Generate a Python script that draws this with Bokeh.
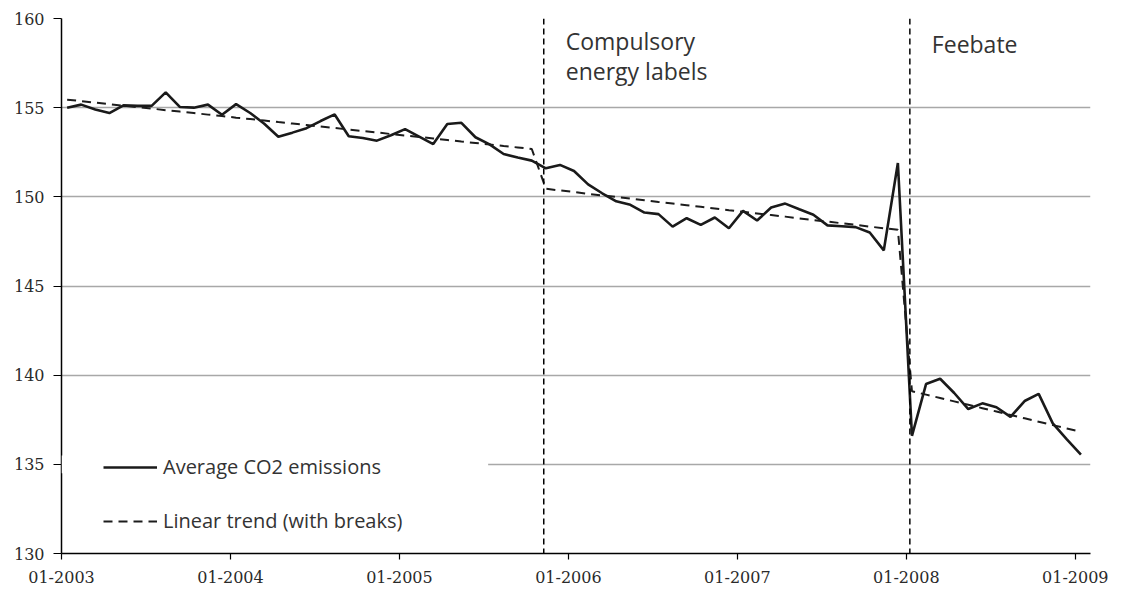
import pandas as pd
from bokeh.plotting import figure
from bokeh.models import (Span, Label, Legend, LegendItem, FixedTicker,
                          BoxAnnotation, Range1d, ColumnDataSource)
from bokeh.embed import file_html
from bokeh.resources import INLINE

# ---------------- data ----------------
months = [str(m) for m in pd.period_range("2003-01", "2009-01", freq="M")]  # 73 monthly observations

co2 = [155.0, 155.17, 154.9, 154.7, 155.13, 155.1, 155.1, 155.86, 155.04, 155.0,
       155.17, 154.6, 155.2, 154.7, 154.1, 153.37, 153.6, 153.85, 154.25, 154.62,
       153.4, 153.3, 153.15, 153.45, 153.8, 153.38, 152.96, 154.08, 154.15, 153.34,
       152.94, 152.4, 152.2, 152.03, 151.6, 151.79, 151.45, 150.7, 150.2, 149.75,
       149.55, 149.12, 149.03, 148.33, 148.8, 148.43, 148.84, 148.24, 149.21, 148.67,
       149.4, 149.62, 149.3, 149.0, 148.4, 148.35, 148.3, 148.0, 147.0, 151.9,
       136.6, 139.5, 139.8, 139.0, 138.1, 138.42, 138.2, 137.66, 138.55, 138.95,
       137.3, 136.4, 135.55]

trend = [155.45, 155.37, 155.28, 155.20, 155.11, 155.03, 154.95, 154.86, 154.78, 154.70,
         154.61, 154.53, 154.44, 154.36, 154.28, 154.19, 154.11, 154.03, 153.94, 153.86,
         153.77, 153.69, 153.61, 153.52, 153.44, 153.36, 153.27, 153.19, 153.10, 153.02,
         152.94, 152.85, 152.77, 152.68,
         150.45, 150.36, 150.27, 150.17, 150.08, 149.99, 149.90, 149.81, 149.71, 149.62,
         149.53, 149.44, 149.35, 149.25, 149.16, 149.07, 148.98, 148.89, 148.79, 148.70,
         148.61, 148.52, 148.43, 148.33, 148.24, 148.15,
         139.10, 138.91, 138.72, 138.53, 138.34, 138.15, 137.96, 137.77, 137.58, 137.39,
         137.20, 137.01, 136.82]

tick_months = ["2003-01", "2004-01", "2005-01", "2006-01", "2007-01", "2008-01", "2009-01"]
tick_labels = ["01-2003", "01-2004", "01-2005", "01-2006", "01-2007", "01-2008", "01-2009"]
y_ticks = [130, 135, 140, 145, 150, 155, 160]

breaks = ["2005-11", "2008-01"]
break_texts = [["Compulsory", "energy labels"], ["Feebate"]]


def month_index(s):
    y, m = s.split("-")
    return (int(y) - 2003) * 12 + int(m) - 1


MID = 0.4    # observation placed within its month
x = [month_index(m) + MID for m in months]

src = ColumnDataSource(dict(x=x, co2=co2, trend=trend))

# ---------------- figure ----------------
p = figure(width=1118, height=592, output_backend="svg", toolbar_location=None,
           x_range=Range1d(0, 73.08), y_range=Range1d(130, 160),
           min_border_left=61, min_border_right=28, min_border_top=18, min_border_bottom=39)
p.outline_line_color = None
p.background_fill_color = "white"
p.border_fill_color = "white"

# grid
p.xgrid.visible = False
p.ygrid.grid_line_color = "#a8a8a8"
p.ygrid.grid_line_width = 1.5

# axes
tick_pos = [month_index(t) for t in tick_months]
p.xaxis.ticker = FixedTicker(ticks=tick_pos)
p.xaxis.major_label_overrides = {t: l for t, l in zip(tick_pos, tick_labels)}
p.yaxis.ticker = FixedTicker(ticks=y_ticks)
for ax in (p.xaxis, p.yaxis):
    ax.axis_line_color = "black"
    ax.axis_line_width = 1.5
    ax.major_tick_line_color = "black"
    ax.major_tick_line_width = 1.2
    ax.minor_tick_line_color = None
    ax.major_tick_in = 0
    ax.major_label_text_font = "DejaVu Serif"
    ax.major_label_text_font_size = "16px"
    ax.major_label_text_color = "#2a2a2a"
p.yaxis.major_tick_out = 8
p.yaxis.major_label_standoff = 9
p.xaxis.major_tick_out = 6
p.xaxis.major_label_standoff = 11

# series
r_co2 = p.line("x", "co2", source=src, line_color="#1a1a1a", line_width=2.6)
r_trend = p.line("x", "trend", source=src, line_color="#1c1c1c", line_width=2,
                 line_dash="9 6")

# break markers
label_offsets = [[-22, -52], [-25]]
for b, lines, offs in zip(breaks, break_texts, label_offsets):
    bx = month_index(b) + 0.25
    p.add_layout(Span(location=bx, dimension="height", line_color="black",
                      line_width=1.5, line_dash="6 4"))
    for t, off in zip(lines, offs):
        p.add_layout(Label(x=bx, y=160, x_offset=22, y_offset=off, text=t,
                           text_font="Open Sans", text_font_size="23px",
                           text_color="#333333", text_baseline="alphabetic"))

# white box behind legend (hides part of gridline)
p.add_layout(BoxAnnotation(left=0, right=30.3, bottom=134.5, top=135.5,
                           fill_color="white", fill_alpha=1, line_alpha=0))

legend = Legend(items=[LegendItem(label="Average CO2 emissions", renderers=[r_co2]),
                       LegendItem(label="Linear trend (with breaks)", renderers=[r_trend])],
                location=(42, 19), padding=0, margin=0, spacing=27,
                glyph_width=54, glyph_height=20, label_height=20, label_standoff=6,
                label_text_font="Open Sans", label_text_font_size="20px",
                label_text_color="#333333", background_fill_alpha=0,
                border_line_alpha=0)
p.add_layout(legend)

open("out.html", "w").write(file_html(p, INLINE))
